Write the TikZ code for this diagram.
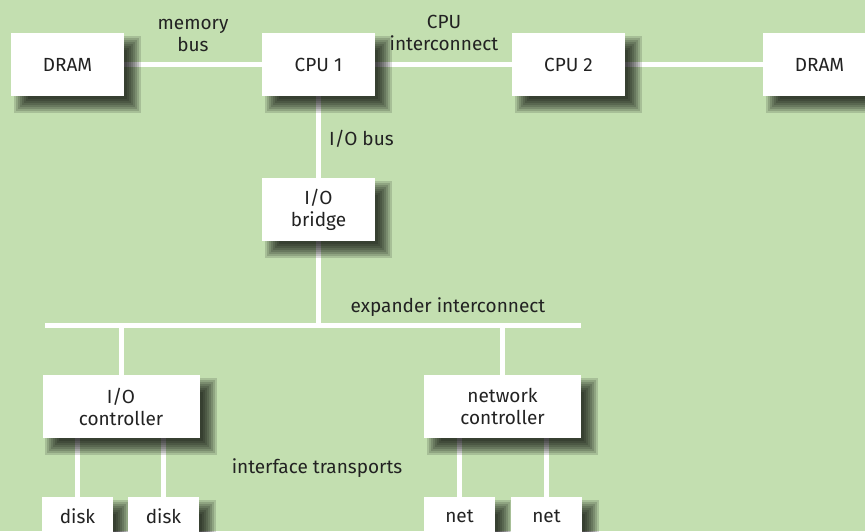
\documentclass[tikz,border=0pt]{standalone}
\usepackage{fontspec}
\setmainfont{Fira Sans}
\definecolor{bgreen}{HTML}{C3DFB0}
\definecolor{ink}{HTML}{222222}
\newcommand\lblfont{\fontsize{19}{22}\selectfont}
% soft drop shadow: stacked translucent rectangles of growing size
\newcommand\dropshadow[1]{%
  \foreach \s in {-7,-5,...,7}
    \fill[black, opacity=0.14]
      ([shift={(10-\s,10-\s)}]#1.north west) rectangle
      ([shift={(10+\s,10+\s)}]#1.south east);}
\pgfdeclarelayer{wires}
\pgfdeclarelayer{shadows}
\pgfsetlayers{wires,shadows,main}
\begin{document}
\begin{tikzpicture}[x=1pt,y=-1pt,
  box/.style={fill=white, minimum width=113pt, minimum height=63pt,
    inner sep=0pt, align=center, font=\lblfont, text=ink},
  leaf/.style={box, minimum width=71pt, minimum height=38pt},
  wide/.style={box, minimum width=157pt},
  wire/.style={draw=white, line width=5pt},
  lbl/.style={font=\lblfont, text=ink, align=center, inner sep=0pt}]
\useasboundingbox (0,0) rectangle (865,531);

% boxes
\node[box] (dramL) at (67.5,64.5) {DRAM};
\node[box] (cpuA) at (318.5,64.5) {CPU 1};
\node[box] (cpuB) at (568.5,64.5) {CPU 2};
\node[box] (dramR) at (819.5,64.5) {DRAM};
\node[box] (bridge) at (318.5,209.5) {I/O\\bridge};
\node[wide] (ioc) at (121,406.5) {I/O\\controller};
\node[wide] (netc) at (502.5,406.5) {network\\controller};
\node[leaf] (diskA) at (77.5,516) {disk};
\node[leaf] (diskB) at (163.5,516) {disk};
\node[leaf] (netA) at (459.5,516) {net};
\node[leaf] (netB) at (546.5,516) {net};

% bus joints
\coordinate (busL) at (45,325);
\coordinate (busR) at (581,325);
\coordinate (jBridge) at (318.5,325);
\coordinate (jIoc) at (121,325);
\coordinate (jNet) at (502.5,325);

% labels
\node[lbl] (lMem) at (193,35) {memory\\bus};
\node[lbl] (lCpu) at (444,33) {CPU\\interconnect};
\node[lbl, anchor=west] (lIo) at (329,139) {I/O bus};
\node[lbl] (lExp) at (448,307) {expander interconnect};
\node[lbl] (lIf) at (317,468) {interface transports};

% shadows sit between the wires and the boxes
\begin{pgfonlayer}{shadows}
  \foreach \b in {dramL,cpuA,cpuB,dramR,bridge,ioc,netc,diskA,diskB,netA,netB}
    {\dropshadow{\b}}
\end{pgfonlayer}

% background and wires below everything
\begin{pgfonlayer}{wires}
  \fill[bgreen] (0,0) rectangle (865,531);
  \draw[wire] (dramL.center) -- (dramR.center);
  \draw[wire] (cpuA.center) -- (jBridge);
  \draw[wire] (busL) -- (busR);
  \draw[wire] (jIoc) -- (ioc.center);
  \draw[wire] (jNet) -- (netc.center);
  \draw[wire] (diskA |- ioc) -- (diskA);
  \draw[wire] (diskB |- ioc) -- (diskB);
  \draw[wire] (netA |- netc) -- (netA);
  \draw[wire] (netB |- netc) -- (netB);
\end{pgfonlayer}
\end{tikzpicture}
\end{document}
